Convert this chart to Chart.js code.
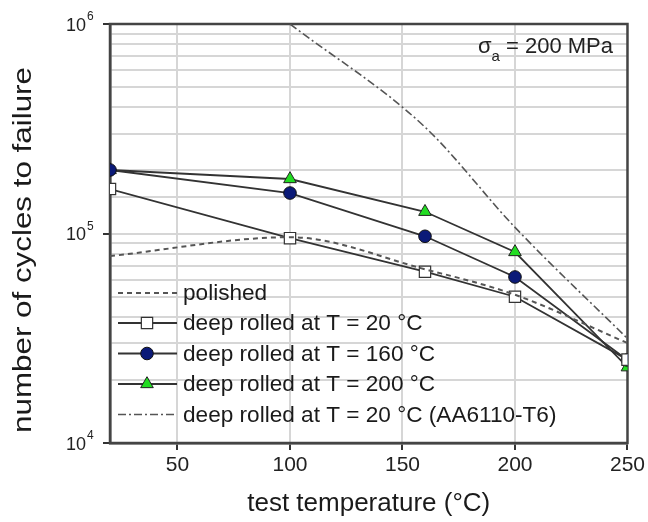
<!DOCTYPE html>
<html><head><meta charset="utf-8">
<script src="https://cdn.jsdelivr.net/npm/chart.js@4.4.0/dist/chart.umd.min.js"></script>
<style>html,body{margin:0;padding:0;background:#fff}#wrap{width:648px;height:522px}</style>
</head><body><div id="wrap"><canvas id="c" width="648" height="522"></canvas></div>
<script>
// ---- data ----
const temperatures = [20, 100, 160, 200, 250];
const polished   = [78000, 96000, 67500, 51000, 30000];
const rolled20   = [163000, 95000, 65700, 49900, 25000];
const rolled160  = [201000, 156000, 97000, 62000, 24900];
const rolled200  = [201000, 182000, 127000, 81600, 23000];
const aaTemps    = [100, 160, 200, 250];
const aa6110     = [1000000, 322000, 107000, 31500];
const xTicks     = [50, 100, 150, 200, 250];
const yExponents = [4, 5, 6];
const seriesLabels = ['polished', 'deep rolled at T = 20 °C', 'deep rolled at T = 160 °C', 'deep rolled at T = 200 °C', 'deep rolled at T = 20 °C (AA6110-T6)'];
const xTitle = 'test temperature (°C)';
const yTitle = 'number of cycles to failure';
const noteSym = 'σ', noteSub = 'a', noteText = ' = 200 MPa';

const FONT = '"Liberation Sans", Arial, sans-serif';
const LINE = '#333';
const pts = (xs, ys) => xs.map((x, i) => ({x: x, y: ys[i]}));

const datasets = [
  {label: seriesLabels[0], data: pts(temperatures, polished), borderColor: '#555', borderWidth: 2, borderDash: [5, 4], pointRadius: 0, cubicInterpolationMode: 'monotone'},
  {label: seriesLabels[1], data: pts(temperatures, rolled20), borderColor: LINE, borderWidth: 1.8, pointStyle: 'rect', pointRadius: 8, pointBackgroundColor: '#fff', pointBorderColor: '#333', pointBorderWidth: 1.2, tension: 0},
  {label: seriesLabels[2], data: pts(temperatures, rolled160), borderColor: LINE, borderWidth: 1.8, pointStyle: 'circle', pointRadius: 6.3, pointBackgroundColor: '#0b1a78', pointBorderColor: '#111', pointBorderWidth: 1, tension: 0},
  {label: seriesLabels[3], data: pts(temperatures, rolled200), borderColor: LINE, borderWidth: 1.8, pointStyle: 'triangle', pointRadius: 7.3, pointBackgroundColor: '#22dd22', pointBorderColor: '#222', pointBorderWidth: 1, tension: 0},
  {label: seriesLabels[4], data: pts(aaTemps, aa6110), borderColor: '#555', borderWidth: 1.6, borderDash: [8, 3, 2, 3], pointRadius: 0, cubicInterpolationMode: 'monotone'}
];

const isPow10 = v => Math.abs(Math.log10(v) - Math.round(Math.log10(v))) < 1e-9;

const decor = {
  id: 'decor',
  beforeDatasetsDraw(chart) {
    const {ctx, chartArea: a} = chart;
    ctx.save();
    ctx.strokeStyle = '#444';
    ctx.lineWidth = 2.5;
    ctx.strokeRect(a.left, a.top, a.right - a.left, a.bottom - a.top);
    ctx.restore();
  },
  afterDraw(chart) {
    const {ctx, chartArea: a, scales} = chart;
    ctx.save();
    // y axis title (rotated)
    ctx.save();
    ctx.translate(24, 250);
    ctx.rotate(-Math.PI / 2);
    ctx.font = '26px ' + FONT;
    const tw = ctx.measureText(yTitle).width;
    ctx.scale(366 / tw, 1);
    ctx.fillStyle = '#1a1a1a';
    ctx.textAlign = 'center';
    ctx.textBaseline = 'middle';
    ctx.fillText(yTitle, 0, 0);
    ctx.restore();
    // y tick labels with superscripts
    ctx.fillStyle = '#222';
    yExponents.forEach(e => {
      const y = scales.y.getPixelForValue(Math.pow(10, e));
      ctx.font = '18px ' + FONT;
      ctx.textAlign = 'right';
      ctx.textBaseline = 'middle';
      ctx.fillText('10', 86, y + 2);
      ctx.font = '12px ' + FONT;
      ctx.textAlign = 'left';
      ctx.fillText(String(e), 87, y - 7);
    });
    // annotation
    ctx.textBaseline = 'alphabetic';
    ctx.textAlign = 'left';
    ctx.font = '22px ' + FONT;
    const wMain = ctx.measureText(noteText).width;
    const wSym = ctx.measureText(noteSym).width;
    ctx.font = '15px ' + FONT;
    const wSub = ctx.measureText(noteSub).width;
    let x0 = 613 - wMain - wSub - wSym;
    ctx.font = '22px ' + FONT;
    ctx.fillText(noteSym, x0, 53);
    ctx.font = '15px ' + FONT;
    ctx.fillText(noteSub, x0 + wSym, 61);
    ctx.font = '22px ' + FONT;
    ctx.fillText(noteText, x0 + wSym + wSub, 53);
    // legend
    const rowY = [293, 323, 353.5, 384, 414.5];
    chart.data.datasets.forEach((ds, i) => {
      const y = rowY[i];
      ctx.save();
      ctx.strokeStyle = ds.borderColor;
      ctx.lineWidth = ds.borderWidth;
      ctx.setLineDash(ds.borderDash || []);
      ctx.beginPath();
      ctx.moveTo(118, y);
      ctx.lineTo(177, y);
      ctx.stroke();
      ctx.restore();
      if (ds.pointRadius > 0) {
        ctx.save();
        ctx.fillStyle = ds.pointBackgroundColor;
        ctx.strokeStyle = ds.pointBorderColor;
        ctx.lineWidth = ds.pointBorderWidth;
        Chart.helpers.drawPoint(ctx, {pointStyle: ds.pointStyle, rotation: 0, radius: ds.pointRadius, borderWidth: ds.pointBorderWidth}, 147, y);
        ctx.restore();
      }
      ctx.fillStyle = '#1a1a1a';
      ctx.font = '22.6px ' + FONT;
      ctx.textAlign = 'left';
      ctx.textBaseline = 'middle';
      ctx.fillText(ds.label, 183, y + 1);
    });
    ctx.restore();
  }
};

new Chart(document.getElementById('c'), {
  type: 'line',
  data: {datasets: datasets},
  plugins: [decor],
  options: {
    responsive: false,
    animation: false,
    devicePixelRatio: 1,
    layout: {padding: {top: 24, right: 20, left: 0, bottom: 0}},
    plugins: {legend: {display: false}, tooltip: {enabled: false}},
    scales: {
      x: {
        type: 'linear', min: 20, max: 250,
        afterBuildTicks: s => { s.ticks = xTicks.map(v => ({value: v})); },
        afterFit: s => { s.height = 79; },
        grid: {
          color: c => (c.tick && c.tick.value < 250) ? '#d6d6d6' : 'rgba(0,0,0,0)',
          lineWidth: 2, drawTicks: true, tickLength: 7, tickColor: '#333', tickWidth: 2
        },
        border: {display: true, color: '#444', width: 2.5},
        ticks: {font: {family: FONT, size: 21}, color: '#222', padding: 3, maxRotation: 0},
        title: {display: true, text: xTitle, font: {family: FONT, size: 26}, color: '#1a1a1a', padding: {top: 4, bottom: 3}}
      },
      y: {
        type: 'logarithmic', min: 1e4, max: 1e6,
        afterFit: s => { s.width = 110; },
        grid: {
          color: c => {
            const v = c.tick && c.tick.value;
            if (!v || v <= 1e4 || v >= 1e6) return 'rgba(0,0,0,0)';
            return '#d6d6d6';
          },
          lineWidth: 2, drawTicks: true, tickLength: 7,
          tickColor: c => (c.tick && isPow10(c.tick.value)) ? '#333' : 'rgba(0,0,0,0)', tickWidth: 2
        },
        border: {display: true, color: '#444', width: 2.5},
        ticks: {autoSkip: false, callback: () => '', font: {family: FONT, size: 17}}
      }
    }
  }
});
</script></body></html>
